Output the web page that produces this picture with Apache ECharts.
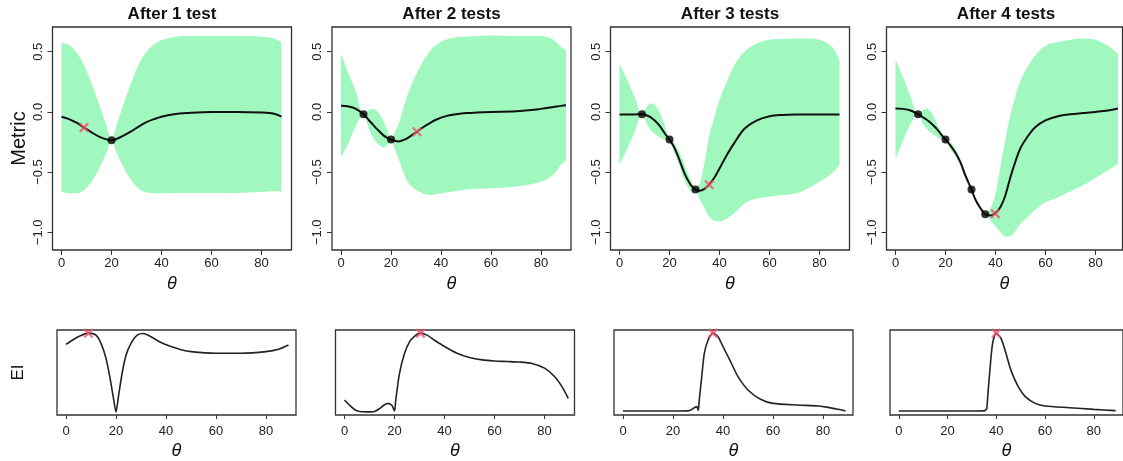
<!DOCTYPE html>
<html><head><meta charset="utf-8">
<script src="https://cdn.jsdelivr.net/npm/echarts@6/dist/echarts.min.js"></script>
<style>html,body{margin:0;padding:0;background:#fff}#c{width:1123px;height:461px}</style>
</head><body><div id="c"></div>
<script>
const titles = ['After 1 test', 'After 2 tests', 'After 3 tests', 'After 4 tests'];
const xTicks = [0, 20, 40, 60, 80];
const yTicks = [-1, -0.5, 0, 0.5];

// Panel 1
const theta1 = [0, 3, 6, 9, 12, 15, 18, 20, 22, 25, 28, 31, 34, 37, 40, 45, 50, 60, 70, 80, 85, 88];
const mean1  = [-0.04, -0.06, -0.09, -0.13, -0.17, -0.205, -0.228, -0.235, -0.225, -0.195, -0.16, -0.12, -0.085, -0.06, -0.04, -0.02, -0.01, 0, 0, -0.005, -0.015, -0.04];
const upper1 = [0.575, 0.555, 0.495, 0.39, 0.24, 0.065, -0.118, -0.235, -0.115, 0.075, 0.25, 0.40, 0.50, 0.56, 0.595, 0.62, 0.63, 0.63, 0.63, 0.625, 0.61, 0.58];
const lower1 = [-0.665, -0.675, -0.675, -0.65, -0.58, -0.475, -0.338, -0.235, -0.335, -0.465, -0.57, -0.64, -0.67, -0.675, -0.675, -0.673, -0.673, -0.673, -0.673, -0.665, -0.66, -0.665];
const tested1 = [[20, -0.235]];
const next1 = [9, -0.13];

// Panel 2
const theta2 = [0, 3, 6, 9, 11, 12.5, 14, 15.5, 17, 18.5, 20, 21.5, 23, 26, 29, 32, 35, 38, 42, 46, 50, 60, 70, 80, 85, 88, 90];
const mean2  = [0.05, 0.045, 0.025, -0.02, -0.065, -0.1, -0.135, -0.165, -0.195, -0.215, -0.23, -0.24, -0.245, -0.225, -0.185, -0.14, -0.1, -0.065, -0.035, -0.02, -0.01, 0, 0.005, 0.025, 0.04, 0.05, 0.055];
const upper2 = [0.485, 0.32, 0.165, -0.02, 0.012, 0.025, 0.015, -0.02, -0.08, -0.15, -0.23, -0.17, -0.105, 0.105, 0.265, 0.39, 0.49, 0.555, 0.60, 0.62, 0.625, 0.635, 0.63, 0.63, 0.60, 0.54, 0.51];
const lower2 = [-0.375, -0.26, -0.115, -0.02, -0.13, -0.2, -0.25, -0.28, -0.295, -0.275, -0.23, -0.31, -0.385, -0.555, -0.635, -0.67, -0.69, -0.685, -0.67, -0.66, -0.645, -0.635, -0.62, -0.58, -0.52, -0.44, -0.40];
const tested2 = [[9, -0.02], [20, -0.23]];
const next2 = [30.4, -0.165];

// Panel 3
const theta3 = [0, 3, 6, 9, 11, 12.5, 14, 16, 18, 20, 22, 24, 26, 28, 29.3, 30.4, 32, 34, 36, 38, 40, 43, 46, 50, 55, 60, 65, 70, 75, 80, 85, 88];
const mean3  = [-0.022, -0.022, -0.021, -0.02, -0.03, -0.045, -0.07, -0.115, -0.175, -0.23, -0.30, -0.40, -0.51, -0.59, -0.625, -0.645, -0.655, -0.64, -0.60, -0.545, -0.47, -0.355, -0.255, -0.14, -0.07, -0.036, -0.025, -0.022, -0.022, -0.022, -0.022, -0.022];
const upper3 = [0.40, 0.27, 0.13, -0.02, 0.045, 0.07, 0.06, 0.0, -0.1, -0.23, -0.26, -0.34, -0.44, -0.54, -0.6, -0.645, -0.6, -0.42, -0.19, -0.04, 0.10, 0.25, 0.39, 0.50, 0.57, 0.60, 0.605, 0.61, 0.61, 0.60, 0.54, 0.43];
const lower3 = [-0.44, -0.31, -0.17, -0.02, -0.1, -0.15, -0.18, -0.21, -0.23, -0.23, -0.34, -0.45, -0.57, -0.645, -0.675, -0.645, -0.72, -0.8, -0.87, -0.905, -0.91, -0.885, -0.84, -0.76, -0.72, -0.705, -0.69, -0.68, -0.64, -0.58, -0.51, -0.44];
const tested3 = [[9, -0.02], [20, -0.23], [30.4, -0.645]];
const next3 = [35.9, -0.605];

// Panel 4
const theta4 = [0, 3, 6, 9, 11, 12.5, 14, 16, 18, 20, 22, 24, 26, 28, 30.4, 32, 34, 35.9, 38, 40, 42, 44, 46, 48, 50, 53, 56, 60, 65, 70, 75, 80, 85, 89];
const mean4  = [0.028, 0.025, 0.012, -0.02, -0.045, -0.065, -0.09, -0.13, -0.18, -0.23, -0.28, -0.34, -0.42, -0.53, -0.645, -0.73, -0.8, -0.85, -0.86, -0.84, -0.79, -0.69, -0.54, -0.41, -0.30, -0.2, -0.125, -0.07, -0.036, -0.02, -0.01, 0.0, 0.012, 0.028];
const upper4 = [0.44, 0.29, 0.13, -0.02, 0.015, 0.028, 0.005, -0.07, -0.16, -0.23, -0.255, -0.31, -0.4, -0.51, -0.645, -0.715, -0.785, -0.85, -0.8, -0.68, -0.45, -0.23, -0.02, 0.13, 0.26, 0.38, 0.47, 0.55, 0.58, 0.60, 0.61, 0.60, 0.55, 0.485];
const lower4 = [-0.39, -0.24, -0.1, -0.02, -0.1, -0.14, -0.17, -0.2, -0.225, -0.23, -0.31, -0.37, -0.45, -0.56, -0.645, -0.745, -0.815, -0.85, -0.9, -0.95, -1.0, -1.035, -1.03, -0.99, -0.93, -0.87, -0.81, -0.75, -0.71, -0.66, -0.61, -0.55, -0.485, -0.43];
const tested4 = [[9, -0.02], [20, -0.23], [30.4, -0.645], [35.9, -0.85]];
const next4 = [39.9, -0.845];

// Expected improvement (scaled 0..1)
const eiTheta1 = [0, 3, 6, 9, 12, 14, 16, 17.5, 19, 20, 21, 22.5, 24, 26, 28.5, 31, 34, 38, 42, 46, 50, 60, 70, 80, 85, 89];
const ei1      = [0.858, 0.92, 0.97, 1.0, 0.975, 0.87, 0.68, 0.45, 0.17, 0.0, 0.2, 0.5, 0.72, 0.87, 0.975, 0.995, 0.955, 0.88, 0.83, 0.79, 0.765, 0.744, 0.744, 0.765, 0.795, 0.85];
const eiTheta2 = [0, 2, 4, 6, 9, 12, 14, 16, 17.5, 19, 20, 20.5, 22, 24, 26, 28, 30.4, 33, 36, 40, 45, 50, 55, 60, 65, 70, 75, 80, 84, 87, 89.5];
const ei2      = [0.15, 0.085, 0.03, 0.005, 0.0, 0.005, 0.04, 0.09, 0.108, 0.08, 0.01, 0.15, 0.49, 0.74, 0.89, 0.96, 1.0, 0.975, 0.91, 0.83, 0.745, 0.69, 0.66, 0.646, 0.64, 0.633, 0.615, 0.555, 0.45, 0.32, 0.17];
const eiTheta3 = [0, 10, 20, 26, 27.5, 28.7, 29.5, 30.1, 30.5, 31.5, 32.5, 34, 36, 38, 40, 43, 46, 50, 55, 60, 70, 78, 82, 86, 89];
const ei3      = [0.01, 0.01, 0.01, 0.012, 0.03, 0.055, 0.066, 0.02, 0.15, 0.447, 0.74, 0.91, 1.0, 0.955, 0.83, 0.64, 0.447, 0.278, 0.16, 0.108, 0.087, 0.074, 0.057, 0.032, 0.011];
const eiTheta4 = [0, 10, 20, 30, 35, 35.7, 36.1, 36.6, 37.5, 38.5, 40, 42, 44, 46, 49, 52, 56, 60, 70, 80, 89];
const ei4      = [0.01, 0.01, 0.01, 0.01, 0.012, 0.025, 0.04, 0.235, 0.57, 0.87, 1.0, 0.93, 0.74, 0.53, 0.32, 0.19, 0.108, 0.074, 0.053, 0.032, 0.015];
const eiNext = [[9, 1.0], [30.4, 1.0], [36, 1.0], [40, 1.0]];

const panels = [
  {theta: theta1, mean: mean1, upper: upper1, lower: lower1, tested: tested1, next: next1, eiTheta: eiTheta1, ei: ei1},
  {theta: theta2, mean: mean2, upper: upper2, lower: lower2, tested: tested2, next: next2, eiTheta: eiTheta2, ei: ei2},
  {theta: theta3, mean: mean3, upper: upper3, lower: lower3, tested: tested3, next: next3, eiTheta: eiTheta3, ei: ei3},
  {theta: theta4, mean: mean4, upper: upper4, lower: lower4, tested: tested4, next: next4, eiTheta: eiTheta4, ei: ei4}
];

const topLeft = [52.5, 332, 610.5, 886.5];
const topWidth = [239, 239, 239, 236];
const topMax = [92, 92, 92, 90.8];
const botLeft = [57, 335.5, 614, 890];
const W = 239;
const FONT = 'Liberation Sans, Arial, sans-serif';
const BAND = '#a0f8bf';
const RED = '#f2506e';
const XSYM = 'path://M0,1.6L1.6,0L5,3.4L8.4,0L10,1.6L6.6,5L10,8.4L8.4,10L5,6.6L1.6,10L0,8.4L3.4,5Z';

const zip = (a, b) => a.map((v, i) => [v, b[i]]);
// value first, theta second, so the stack runs on the value (y) dimension
const zipYX = (t, v) => t.map((x, i) => [v[i], x]);

const grid = [], xAxis = [], yAxis = [], series = [], title = [];
const tickLabel = {fontSize: 13, color: '#222', fontFamily: FONT};
const thetaName = {fontStyle: 'italic', fontSize: 18, fontFamily: FONT, color: '#111'};

panels.forEach((p, i) => {
  grid.push({left: topLeft[i], top: 27, width: topWidth[i], height: 223, show: true, borderColor: '#333', borderWidth: 1.3, backgroundColor: 'transparent'});
  title.push({text: titles[i], left: topLeft[i] + W / 2, top: 6, padding: 0, textAlign: 'center',
    textStyle: {fontSize: 17, fontWeight: 'bold', fontFamily: FONT, color: '#111'}});
  xAxis.push({type: 'value', gridIndex: 2 * i, min: -3.6, max: topMax[i],
    axisLine: {show: false, onZero: false}, splitLine: {show: false},
    axisTick: {show: true, customValues: xTicks, length: 5, lineStyle: {color: '#333'}},
    axisLabel: Object.assign({customValues: xTicks, margin: 7}, tickLabel),
    name: 'θ', nameLocation: 'middle', nameGap: 25, nameTextStyle: thetaName});
  yAxis.push({type: 'value', gridIndex: 2 * i, min: -1.147, max: 0.705,
    axisLine: {show: false, onZero: false}, splitLine: {show: false},
    axisTick: {show: true, customValues: yTicks, length: 5, lineStyle: {color: '#333'}},
    axisLabel: Object.assign({customValues: yTicks, margin: 8, rotate: 90,
      formatter: v => v.toFixed(1).replace('-', '\u2212')}, tickLabel),
    name: i === 0 ? 'Metric' : '', nameLocation: 'middle', nameGap: 23, nameRotate: 90,
    nameTextStyle: {fontSize: 20, fontFamily: FONT, color: '#111'}});
  grid.push({left: botLeft[i], top: 330, width: W, height: 85, show: true, borderColor: '#333', borderWidth: 1.3, backgroundColor: 'transparent'});
  xAxis.push({type: 'value', gridIndex: 2 * i + 1, min: -3.6, max: 92,
    axisLine: {show: false, onZero: false}, splitLine: {show: false},
    axisTick: {show: true, customValues: xTicks, length: 4, lineStyle: {color: '#333'}},
    axisLabel: Object.assign({customValues: xTicks, margin: 10}, tickLabel),
    name: 'θ', nameLocation: 'middle', nameGap: 27, nameTextStyle: thetaName});
  yAxis.push({type: 'value', gridIndex: 2 * i + 1, min: -0.04, max: 1.04,
    axisLine: {show: false, onZero: false}, splitLine: {show: false},
    axisTick: {show: false}, axisLabel: {show: false},
    name: i === 0 ? 'EI' : '', nameLocation: 'middle', nameGap: 30, nameRotate: 90,
    nameTextStyle: {fontSize: 17, fontFamily: FONT, color: '#111'}});

  const diff = p.upper.map((u, k) => u - p.lower[k]);
  const ax = {xAxisIndex: 2 * i, yAxisIndex: 2 * i};
  series.push(Object.assign({type: 'line', data: zipYX(p.theta, p.lower), encode: {x: 1, y: 0},
    stack: 'band' + i, stackStrategy: 'all',
    symbol: 'none', smooth: 0.35, lineStyle: {opacity: 0}, silent: true, z: 1}, ax));
  series.push(Object.assign({type: 'line', data: zipYX(p.theta, diff), encode: {x: 1, y: 0},
    stack: 'band' + i, stackStrategy: 'all',
    symbol: 'none', smooth: 0.35, lineStyle: {opacity: 0}, areaStyle: {color: BAND, opacity: 1}, silent: true, z: 1}, ax));
  series.push(Object.assign({type: 'line', data: zip(p.theta, p.mean), symbol: 'none', smooth: 0.35,
    lineStyle: {color: '#111', width: 2}, z: 3}, ax));
  series.push(Object.assign({type: 'scatter', data: p.tested, symbol: 'circle', symbolSize: 8,
    itemStyle: {color: '#000'}, z: 4}, ax));
  series.push(Object.assign({type: 'scatter', data: [p.next], symbol: XSYM, symbolSize: 10,
    itemStyle: {color: RED}, z: 5}, ax));

  const bx = {xAxisIndex: 2 * i + 1, yAxisIndex: 2 * i + 1};
  series.push(Object.assign({type: 'line', data: zip(p.eiTheta, p.ei), symbol: 'none', smooth: 0.25,
    lineStyle: {color: '#222', width: 1.6}, z: 3}, bx));
  series.push(Object.assign({type: 'scatter', data: [eiNext[i]], symbol: XSYM, symbolSize: 10,
    itemStyle: {color: RED}, z: 5}, bx));
});

const chart = echarts.init(document.getElementById('c'), null, {renderer: 'canvas'});
chart.setOption({animation: false, backgroundColor: '#fff', title, grid, xAxis, yAxis, series});
</script>
</body></html>
